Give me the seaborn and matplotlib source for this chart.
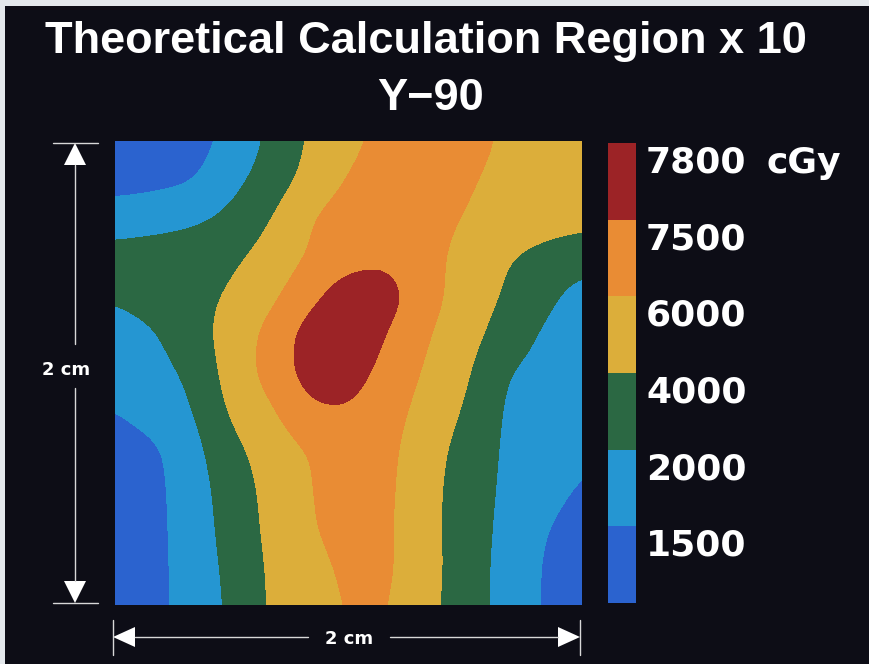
import numpy as np
import matplotlib
matplotlib.use("Agg")
import matplotlib.pyplot as plt
from matplotlib.colors import ListedColormap
from matplotlib.patches import Polygon, Rectangle
from matplotlib.lines import Line2D
import seaborn as sns

# dose grid (cGy), 13 x 13 samples across the 2 cm x 2 cm region, top row first
dose_rows = [
    [1600, 1650, 1680, 2500, 4380, 6170, 7140, 7580, 7710, 7590, 7350, 6830, 6300],
    [1650, 1750, 1880, 3380, 4900, 6440, 7520, 7670, 7670, 7530, 7160, 6740, 6400],
    [3000, 3200, 3600, 4440, 5920, 7500, 7650, 7770, 7610, 7400, 7050, 6750, 6550],
    [4800, 5000, 5200, 5600, 6590, 7520, 7670, 7740, 7580, 7080, 6100, 5300, 4700],
    [4200, 4800, 5400, 6140, 7110, 7700, 8000, 7950, 7610, 6860, 5860, 4500, 3200],
    [3200, 3760, 5160, 6660, 7590, 7950, 8100, 7780, 7520, 6600, 5180, 3700, 3000],
    [2800, 3400, 4300, 6710, 7600, 7950, 7950, 7680, 7320, 6290, 3960, 3400, 3000],
    [1950, 2750, 3840, 6290, 7220, 7760, 7780, 7600, 7020, 5820, 3740, 3000, 2500],
    [1720, 1800, 3320, 5460, 6660, 7500, 7680, 7570, 6680, 5180, 3740, 3000, 2300],
    [1680, 1760, 3100, 4940, 6440, 7410, 7670, 7560, 6500, 5020, 3700, 2680, 1900],
    [1660, 1750, 3000, 4760, 6360, 7340, 7640, 7550, 6450, 5020, 3560, 2050, 1720],
    [1660, 1750, 2900, 4500, 6260, 6960, 7570, 7560, 6520, 5020, 3400, 1920, 1650],
    [1660, 1750, 2860, 4300, 6230, 6860, 7530, 7530, 6420, 4960, 3400, 1920, 1650],
]

level_labels = ["1500", "2000", "4000", "6000", "7500", "7800"]
level_bounds = [2000, 4000, 6000, 7500, 7800]
band_colors = ["#2b63cf", "#2596d2", "#2b6843", "#dcae3a", "#e98c34", "#9c2326"]
title_lines = ["Theoretical Calculation Region x 10", "Y\u221290"]
size_label = "2 cm"
unit_label = "cGy"

W, H = 869, 664
BG = "#0d0d16"

sns.set_style("dark", rc={"axes.facecolor": BG, "figure.facecolor": BG})
plt.rcParams["font.family"] = ["DejaVu Sans"]

dose = np.array(dose_rows, dtype=float)

# put the dose on an even "band" scale so the contour bands are spaced sensibly
dose_knots = [1600, 2000, 4000, 6000, 7500, 7800, 8100]
band_knots = [0, 0.5, 1.5, 2.5, 3.5, 4.5, 5.5]
z = np.interp(dose, dose_knots, band_knots)


# refine the grid and soften it a bit so the contour lines come out smooth
def refine(a, k=10, sigma=3.5):
    ny, nx = a.shape
    xs = np.linspace(0, nx - 1, (nx - 1) * k + 1)
    ys = np.linspace(0, ny - 1, (ny - 1) * k + 1)
    a = np.array([np.interp(xs, np.arange(nx), r) for r in a])
    a = np.array([np.interp(ys, np.arange(ny), c) for c in a.T]).T
    r = int(3 * sigma)
    g = np.exp(-0.5 * (np.arange(-r, r + 1) / sigma) ** 2)
    g /= g.sum()
    p = np.pad(a, r, mode="edge")
    p = np.apply_along_axis(lambda v: np.convolve(v, g, mode="valid"), 0, p)
    p = np.apply_along_axis(lambda v: np.convolve(v, g, mode="valid"), 1, p)
    return p


zf = refine(z)
ny, nx = zf.shape
xg = np.linspace(0, 2, nx)
yg = np.linspace(2, 0, ny)
X, Y = np.meshgrid(xg, yg)

fig = plt.figure(figsize=(W / 100, H / 100), dpi=100)
fig.patch.set_facecolor(BG)


def fx(px):
    return px / W


def fy(py):
    return 1 - py / H


ax = fig.add_axes([fx(115), fy(605), fx(582) - fx(115), fy(141) - fy(605)])
cont_levels = [-10] + list(np.interp(level_bounds, dose_knots, band_knots)) + [10]
ax.contourf(X, Y, zf, levels=cont_levels, colors=band_colors)
ax.set_xlim(0, 2)
ax.set_ylim(0, 2)
ax.set_axis_off()

# colour key as a 6x1 heatmap
cax = fig.add_axes([fx(608), fy(603), fx(636) - fx(608), fy(143) - fy(603)])
key = np.arange(len(band_colors))[::-1].reshape(-1, 1)
sns.heatmap(key, ax=cax, cmap=ListedColormap(band_colors), cbar=False,
            xticklabels=False, yticklabels=False, vmin=-0.5, vmax=len(band_colors) - 0.5)

block_tops = np.linspace(143, 603, len(band_colors) + 1)[:-1]
for i, lab in enumerate(level_labels[::-1]):
    fig.text(fx(646), fy(block_tops[i] + 29.5), lab, color="white", fontsize=26,
             fontweight="bold", ha="left", va="baseline")
fig.text(fx(767), fy(block_tops[0] + 29.5), unit_label, color="white", fontsize=26,
         fontweight="bold", ha="left", va="baseline")

# title
fig.text(fx(426), fy(53), title_lines[0], color="white", fontsize=32.5,
         fontweight="bold", ha="center", va="baseline", family="Liberation Sans")
fig.text(fx(431), fy(110), title_lines[1], color="white", fontsize=32.5,
         fontweight="bold", ha="center", va="baseline", family="Liberation Sans")

# dimension arrows
lc = "#d8d8d8"


def seg(x0, y0, x1, y1, lw=1.0):
    fig.add_artist(Line2D([fx(x0), fx(x1)], [fy(y0), fy(y1)], color=lc, lw=lw))


def tri(pts):
    fig.add_artist(Polygon([(fx(a), fy(b)) for a, b in pts], closed=True,
                           facecolor="white", edgecolor="none"))


# vertical
vx = 75
seg(53, 143, 98, 143)
seg(53, 603, 98, 603)
tri([(vx, 143), (vx - 11, 165), (vx + 11, 165)])
tri([(vx, 603), (vx - 11, 581), (vx + 11, 581)])
seg(vx, 165, vx, 344)
seg(vx, 388, vx, 581)
fig.text(fx(66), fy(375), size_label, color="white", fontsize=13,
         fontweight="bold", ha="center", va="baseline")

# horizontal
hy = 637
seg(113, 620, 113, 655)
seg(580, 620, 580, 655)
tri([(113, hy), (135, hy - 10), (135, hy + 10)])
tri([(580, hy), (558, hy - 10), (558, hy + 10)])
seg(135, hy, 308, hy)
seg(390, hy, 558, hy)
fig.text(fx(349), fy(644), size_label, color="white", fontsize=13,
         fontweight="bold", ha="center", va="baseline")

# light border strips of the original print
fig.add_artist(Rectangle((0, fy(6)), 1, fy(0) - fy(6), transform=fig.transFigure,
                         facecolor="#e4e8ec", edgecolor="none"))
fig.add_artist(Rectangle((0, 0), fx(5), 1, transform=fig.transFigure,
                         facecolor="#e4e8ec", edgecolor="none"))

fig.savefig("out.png", dpi=100, facecolor=BG)
